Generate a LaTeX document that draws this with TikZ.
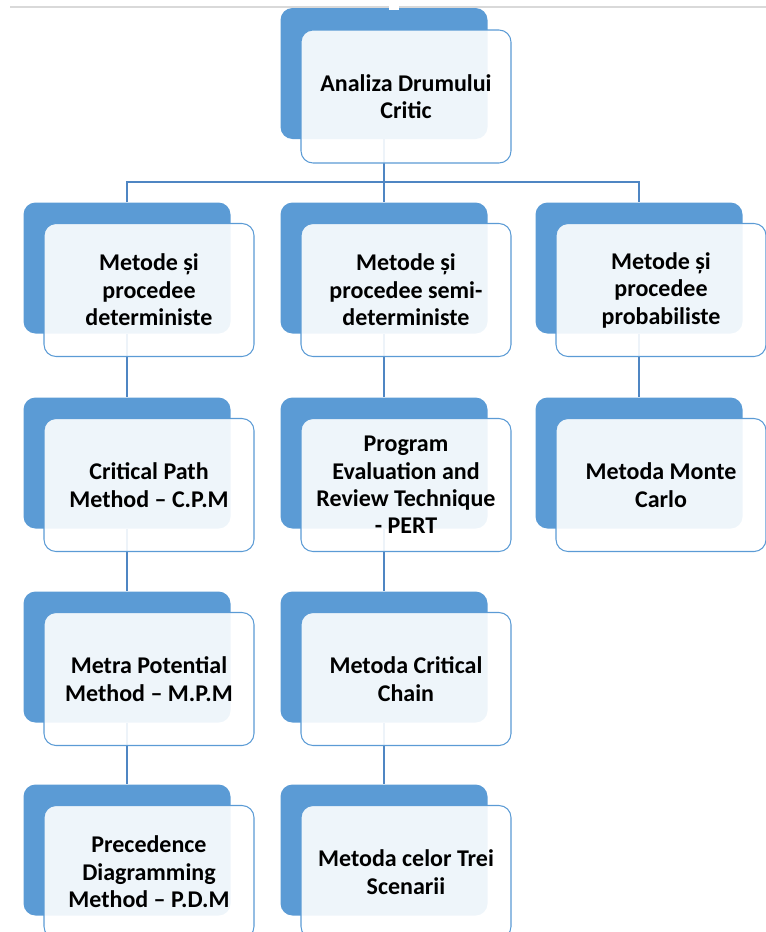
\documentclass[tikz,border=0pt]{standalone}
\usepackage{fontspec}
\setmainfont{Carlito}
\usepackage{tikz}
\usetikzlibrary{calc}
\definecolor{myblue}{HTML}{5B9BD5}
\definecolor{mylineblue}{HTML}{4F86C3}
\definecolor{mygray}{HTML}{D9D9D9}
\tikzset{
	backbox/.style={fill=myblue,rounded corners=9pt,minimum width=155.25pt,minimum height=98.25pt,inner sep=0pt},
	frontbox/.style={draw=myblue,line width=0.8pt,fill=white,fill opacity=0.9,text opacity=1,rounded corners=9pt,
		minimum width=157.5pt,minimum height=99.75pt,inner sep=0pt,align=center,
		font=\bfseries\fontsize{18}{20.6}\selectfont},
	link/.style={draw=mylineblue,line width=1.4pt}
}

\begin{document}
\begin{tikzpicture}[x=0.75pt,y=-0.75pt]
		\useasboundingbox (0,0) rectangle (766,932);
		\draw[mygray,line width=1.5pt] (10,7) -- (766,7);

		% back boxes
		\node[backbox] (r0) at (384,73.5) {};
		\node[backbox] (a1) at (127,268) {};
		\node[backbox] (b1) at (384,268) {};
		\node[backbox] (c1) at (639,268) {};
		\node[backbox] (a2) at (127,463) {};
		\node[backbox] (b2) at (384,463) {};
		\node[backbox] (c2) at (639,463) {};
		\node[backbox] (a3) at (127,657) {};
		\node[backbox] (b3) at (384,657) {};
		\node[backbox] (a4) at (127,850) {};
		\node[backbox] (b4) at (384,850) {};
		\fill[white] (389,0) rectangle (399,10);

		% links, under the front boxes
		\coordinate (hub) at (384,182);
		\draw[link] (r0.south) -- (hub);
		\draw[link] (a1.north) |- (hub) -| (c1.north);
		\draw[link] (hub) -- (b1.north);
		\draw[link] (a1.south) -- (a2.north);
		\draw[link] (a2.south) -- (a3.north);
		\draw[link] (a3.south) -- (a4.north);
		\draw[link] (b1.south) -- (b2.north);
		\draw[link] (b2.south) -- (b3.north);
		\draw[link] (b3.south) -- (b4.north);
		\draw[link] (c1.south) -- (c2.north);

		% front boxes
		\node[frontbox] (r0t) at ($(r0)+(22,23)$) {Analiza Drumului\\Critic};
		\node[frontbox] (a1t) at ($(a1)+(22,22)$) {Metode și\\procedee\\deterministe};
		\node[frontbox] (b1t) at ($(b1)+(22,22)$) {Metode și\\procedee semi-\\deterministe};
		\node[frontbox] (c1t) at ($(c1)+(22,22)$) {Metode și\\procedee\\probabiliste};
		\node[frontbox] (a2t) at ($(a2)+(22,22)$) {Critical Path\\Method – C.P.M};
		\node[frontbox] (b2t) at ($(b2)+(22,22)$) {Program\\Evaluation and\\Review Technique\\- PERT};
		\node[frontbox] (c2t) at ($(c2)+(22,22)$) {Metoda Monte\\Carlo};
		\node[frontbox] (a3t) at ($(a3)+(22,22)$) {Metra Potential\\Method – M.P.M};
		\node[frontbox] (b3t) at ($(b3)+(22,22)$) {Metoda Critical\\Chain};
		\node[frontbox] (a4t) at ($(a4)+(22,22)$) {Precedence\\Diagramming\\Method – P.D.M};
		\node[frontbox] (b4t) at ($(b4)+(22,22)$) {Metoda celor Trei\\Scenarii};
	\end{tikzpicture}
\end{document}
